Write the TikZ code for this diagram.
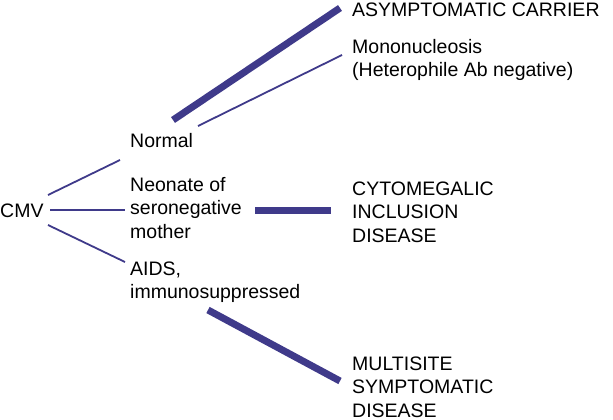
\documentclass[tikz,border=0pt]{standalone}
\usepackage{fontspec}
\setmainfont{Liberation Sans}
\definecolor{ln}{HTML}{3F3A8A}
\begin{document}
\begin{tikzpicture}[x=1pt,y=-1pt,
  lbl/.style={anchor=west,inner sep=0pt,align=left,font=\fontsize{19.5}{23.5}\selectfont},
  thin/.style={draw=ln,line width=1.8pt},
  thick/.style={draw=ln,line width=7pt}]
\useasboundingbox (0,0) rectangle (613,420);
\node[lbl] (cmv) at (0,211) {CMV};
\node[lbl] (nor) at (130,141) {Normal};
\node[lbl] (neo) at (130,208) {Neonate of\\seronegative\\mother};
\node[lbl] (aids) at (130,282) {AIDS,\\immunosuppressed};
\node[lbl] (ac) at (352,10) {ASYMPTOMATIC CARRIER};
\node[lbl] (mono) at (352,60) {Mononucleosis\\(Heterophile Ab negative)};
\node[lbl] (cid) at (352,212) {CYTOMEGALIC\\INCLUSION\\DISEASE};
\node[lbl] (msd) at (352,387) {MULTISITE\\SYMPTOMATIC\\DISEASE};
\coordinate (c1) at (48,195); \coordinate (n1) at (120,160);
\coordinate (c2) at (50,210); \coordinate (n2) at (125,210);
\coordinate (c3) at (48,225); \coordinate (n3) at (125,262);
\draw[thin] (c1) -- (n1);
\draw[thin] (c2) -- (n2);
\draw[thin] (c3) -- (n3);
\coordinate (a1) at (173,120); \coordinate (a2) at (340,8);
\coordinate (m1) at (198,126); \coordinate (m2) at (342,55);
\coordinate (d1) at (255,210); \coordinate (d2) at (331,210);
\coordinate (s1) at (208,310); \coordinate (s2) at (340,381);
\draw[thick] (a1) -- (a2);
\draw[thin] (m1) -- (m2);
\draw[thick] (d1) -- (d2);
\draw[thick] (s1) -- (s2);
\end{tikzpicture}
\end{document}
